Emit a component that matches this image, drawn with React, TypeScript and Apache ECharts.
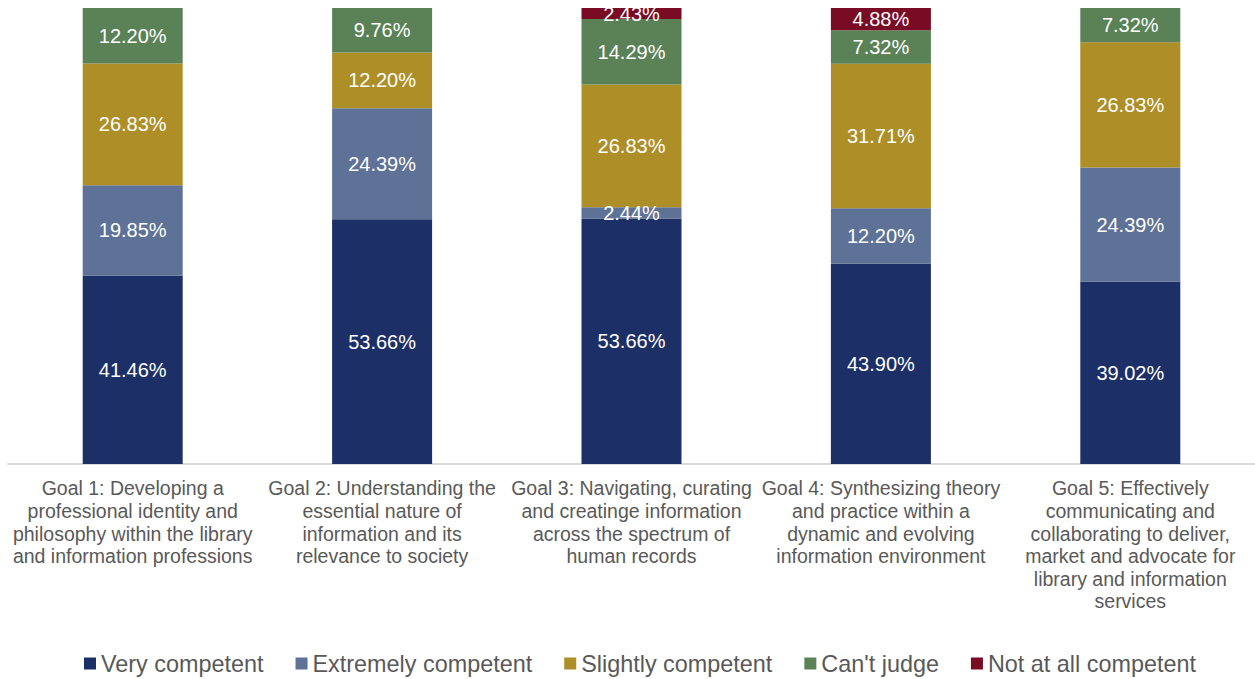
import React, { useEffect, useRef } from "react";
import * as echarts from "echarts";

const categories = [
  "Goal 1: Developing a\nprofessional identity and\nphilosophy within the library\nand information professions",
  "Goal 2: Understanding the\nessential nature of\ninformation and its\nrelevance to society",
  "Goal 3: Navigating, curating\nand creatinge information\nacross the spectrum of\nhuman records",
  "Goal 4: Synthesizing theory\nand practice within a\ndynamic and evolving\ninformation environment",
  "Goal 5: Effectively\ncommunicating and\ncollaborating to deliver,\nmarket and advocate for\nlibrary and information\nservices",
];

const veryCompetent = [41.46, 53.66, 53.66, 43.9, 39.02];
const extremelyCompetent = [19.85, 24.39, 2.44, 12.2, 24.39];
const slightlyCompetent = [26.83, 12.2, 26.83, 31.71, 26.83];
const cantJudge = [12.2, 9.76, 14.29, 7.32, 7.32];
const notAtAllCompetent = [0, 0, 2.43, 4.88, 0];

const seriesNames = [
  "Very competent",
  "Extremely competent",
  "Slightly competent",
  "Can't judge",
  "Not at all competent",
];
const seriesValues = [veryCompetent, extremelyCompetent, slightlyCompetent, cantJudge, notAtAllCompetent];
const colors = ["#1C2F66", "#5E7196", "#AD8E27", "#5A8256", "#7A0B25"];

const FONT = 'Arial, "Liberation Sans", sans-serif';

export default function App() {
  const ref = useRef<HTMLDivElement>(null);
  useEffect(() => {
    if (!ref.current) return;
    const chart = echarts.init(ref.current, undefined, { renderer: "svg" });
    const totals = categories.map((_, i) => seriesValues.reduce((s, arr) => s + arr[i], 0));
    const series = seriesValues.map((arr, si) => ({
      name: seriesNames[si],
      type: "bar",
      stack: "total",
      barWidth: 100,
      itemStyle: { color: colors[si] },
      label: {
        show: true,
        position: "inside",
        color: "#ffffff",
        fontSize: 20,
        fontFamily: FONT,
        formatter: (p: any) => (p.data && p.data.raw ? p.data.raw.toFixed(2) + "%" : ""),
      },
      data: arr.map((v, i) => (v > 0 ? { value: (v / totals[i]) * 100, raw: v } : null)),
    }));
    chart.setOption({
      animation: false,
      textStyle: { fontFamily: FONT },
      grid: { left: 8, right: -3, top: 8, bottom: 215, containLabel: false },
      xAxis: {
        type: "category",
        data: categories,
        axisTick: { show: false },
        axisLine: { lineStyle: { color: "#D9D9D9", width: 2 } },
        axisLabel: {
          interval: 0,
          margin: 13,
          color: "#595959",
          fontSize: 19.5,
          lineHeight: 22.6,
          fontFamily: FONT,
          align: "center",
        },
      },
      yAxis: {
        type: "value",
        min: 0,
        max: 100,
        show: false,
        splitLine: { show: false },
      },
      legend: {
        top: 647,
        left: 79,
        itemWidth: 12,
        itemHeight: 12,
        itemGap: 32,
        icon: "rect",
        textStyle: { color: "#595959", fontSize: 23.4, fontFamily: FONT },
        data: seriesNames,
      },
      series,
    });
    return () => chart.dispose();
  }, []);
  return <div ref={ref} style={{ width: 1255, height: 679, position: "absolute", left: 0, top: 0 }} />;
}
